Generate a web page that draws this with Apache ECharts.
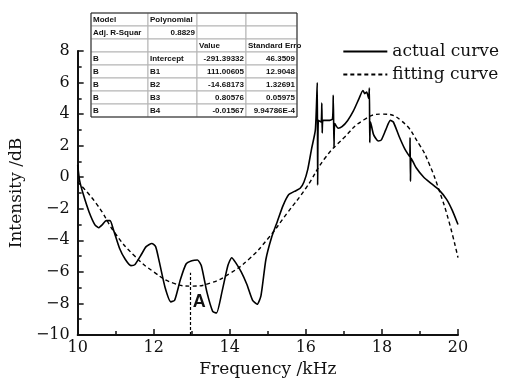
<!DOCTYPE html>
<html>
<head>
<meta charset="utf-8">
<script src="https://cdn.jsdelivr.net/npm/echarts@6/dist/echarts.min.js"></script>
<style>
  html, body { margin: 0; padding: 0; background: #fff; }
  #chart { width: 518px; height: 384px; }
</style>
</head>
<body>
<div id="chart"></div>
<script>
var actualCurve = [
  [10.0, 0.8], [10.05, -0.2], [10.15, -1.1], [10.3, -2.2], [10.45, -3.0], [10.55, -3.2],
  [10.65, -3.0], [10.75, -2.75], [10.85, -2.75], [10.95, -3.4], [11.1, -4.5], [11.25, -5.2],
  [11.4, -5.6], [11.5, -5.55], [11.65, -5.0], [11.8, -4.4], [11.95, -4.2], [12.05, -4.4],
  [12.15, -5.4], [12.3, -7.0], [12.45, -7.9], [12.55, -7.8], [12.7, -6.5], [12.85, -5.5],
  [13.0, -5.3], [13.15, -5.25], [13.25, -5.6], [13.4, -7.3], [13.55, -8.5], [13.65, -8.6],
  [13.8, -7.2], [13.95, -5.6], [14.05, -5.1], [14.15, -5.4], [14.3, -6.0], [14.45, -6.8],
  [14.6, -7.8], [14.72, -8.05], [14.82, -7.5], [14.95, -5.2], [15.1, -3.8], [15.25, -2.8],
  [15.4, -1.8], [15.55, -1.1], [15.7, -0.9], [15.85, -0.7], [15.95, -0.3], [16.05, 0.5],
  [16.15, 1.8], [16.25, 3.0], [16.3, 6.0], [16.31, -0.5], [16.33, 3.6], [16.4, 3.5],
  [16.42, 4.7], [16.43, 2.8], [16.45, 3.6], [16.6, 3.6], [16.7, 3.7], [16.72, 5.2],
  [16.74, 1.9], [16.76, 3.4], [16.85, 3.1], [16.95, 3.2], [17.1, 3.6], [17.25, 4.2],
  [17.4, 5.0], [17.5, 5.5], [17.55, 5.3], [17.6, 5.4], [17.65, 5.0], [17.67, 5.65],
  [17.68, 2.2], [17.7, 3.5], [17.78, 2.7], [17.9, 2.3], [17.98, 2.35], [18.1, 3.0],
  [18.22, 3.6], [18.3, 3.5], [18.45, 2.6], [18.6, 1.8], [18.73, 1.3], [18.74, 2.5],
  [18.75, -0.25], [18.77, 1.2], [18.9, 0.6], [19.1, 0.0], [19.3, -0.4], [19.5, -0.8],
  [19.7, -1.4], [19.85, -2.1], [20.0, -3.0]
];

// polynomial fit
var fitCurve = [
  [10.0, -0.3], [10.5, -1.7], [11.0, -3.6], [11.5, -5.0], [12.0, -6.0], [12.5, -6.7],
  [13.0, -6.9], [13.5, -6.7], [14.0, -6.1], [14.5, -5.2], [15.0, -3.9], [15.5, -2.3],
  [16.0, -0.7], [16.5, 1.2], [17.0, 2.5], [17.5, 3.6], [18.0, 4.0], [18.5, 3.6],
  [19.0, 2.0], [19.25, 0.8], [19.5, -0.8], [19.75, -2.7], [20.0, -5.1]
];

var markA = { x: 12.95, top: -6.05, labelX: 13.2, labelY: -7.9 };

// fit result table
var tableRows = [
  ['Model', 'Polynomial', '', ''],
  ['Adj. R-Squar', '0.8829', '', ''],
  ['', '', 'Value', 'Standard Erro'],
  ['B', 'Intercept', '-291.39332', '46.3509'],
  ['B', 'B1', '111.00605', '12.9048'],
  ['B', 'B2', '-14.68173', '1.32691'],
  ['B', 'B3', '0.80576', '0.05975'],
  ['B', 'B4', '-0.01567', '9.94786E-4']
];
var colWidths = [57, 49, 49, 51];

var serif = '"DejaVu Serif", serif';

function buildTable(left, top, rowH) {
  var els = [];
  var y = top;
  tableRows.forEach(function (row, r) {
    var x = left;
    row.forEach(function (txt, c) {
      var w = colWidths[c];
      els.push({
        type: 'rect', shape: { x: x, y: y, width: w, height: rowH },
        style: { fill: '#fff', stroke: '#b5b5b5', lineWidth: 1 }
      });
      if (txt) {
        var right = (r === 1 && c === 1) || (r >= 3 && c >= 2);
        els.push({
          type: 'text',
          style: {
            text: txt, x: right ? x + w - 2 : x + 2, y: y + rowH / 2 + 0.5,
            textAlign: right ? 'right' : 'left', textVerticalAlign: 'middle',
            font: 'bold 8px "Liberation Sans", Arial, sans-serif', fill: '#111'
          }
        });
      }
      x += w;
    });
    y += rowH;
  });
  var totalW = colWidths.reduce(function (a, b) { return a + b; }, 0);
  els.push({
    type: 'rect', shape: { x: left, y: top, width: totalW, height: rowH * tableRows.length },
    style: { fill: 'none', stroke: '#222', lineWidth: 1 }
  });
  return els;
}

var chart = echarts.init(document.getElementById('chart'));

function minusFmt(v) { return String(v).replace('-', '\u2212'); }

chart.setOption({
  animation: false,
  backgroundColor: '#fff',
  grid: { left: 77, right: 60, top: 51, bottom: 49 },
  legend: {
    orient: 'vertical', right: 14, top: 38, itemGap: 6,
    itemWidth: 44, itemHeight: 14,
    itemStyle: { opacity: 0 },
    textStyle: { fontFamily: serif, fontSize: 17, color: '#111' },
    data: ['actual curve', 'fitting curve']
  },
  xAxis: {
    type: 'value', min: 10, max: 20, interval: 2,
    name: 'Frequency /kHz', nameLocation: 'middle', nameGap: 24,
    nameTextStyle: { fontFamily: serif, fontSize: 17, color: '#111' },
    axisLine: { onZero: false, lineStyle: { color: '#111', width: 2 } },
    axisTick: { inside: true, length: 6, lineStyle: { width: 1.5 } },
    minorTick: { show: true, splitNumber: 2, length: 4, lineStyle: { color: '#111', width: 1.5 } },
    axisLabel: { fontFamily: serif, fontSize: 16, color: '#111', margin: 5 },
    splitLine: { show: false }
  },
  yAxis: {
    type: 'value', min: -10, max: 8, interval: 2,
    name: 'Intensity /dB', nameLocation: 'middle', nameGap: 47,
    nameTextStyle: { fontFamily: serif, fontSize: 17, color: '#111' },
    axisLine: { show: true, onZero: false, lineStyle: { color: '#111', width: 2 } },
    axisTick: { show: true, inside: true, length: 6, lineStyle: { width: 1.5 } },
    minorTick: { show: true, splitNumber: 2, length: 4, lineStyle: { color: '#111', width: 1.5 } },
    axisLabel: { fontFamily: serif, fontSize: 16, color: '#111', margin: 8, formatter: minusFmt },
    splitLine: { show: false }
  },
  series: [
    {
      name: 'actual curve', type: 'line', data: actualCurve,
      showSymbol: false, symbol: 'none', smooth: 0.2,
      lineStyle: { color: '#000', width: 1.6 },
      itemStyle: { color: '#000' },
      markLine: {
        silent: true, symbol: 'none',
        lineStyle: { color: '#000', type: [3, 2], width: 1.2 },
        label: { show: false },
        data: [[{ coord: [markA.x, -10] }, { coord: [markA.x, markA.top] }]]
      },
      markPoint: {
        silent: true, symbol: 'circle', symbolSize: 2,
        itemStyle: { color: 'rgba(0,0,0,0)' },
        label: {
          show: true, position: 'inside', formatter: 'A', color: '#111',
          fontFamily: '"Liberation Sans", Arial, sans-serif', fontWeight: 'bold', fontSize: 18
        },
        data: [{ coord: [markA.labelX, markA.labelY] }]
      }
    },
    {
      name: 'fitting curve', type: 'line', data: fitCurve,
      showSymbol: false, symbol: 'none', smooth: true,
      lineStyle: { color: '#000', width: 1.4, type: [4, 3] },
      itemStyle: { color: '#000' }
    }
  ],
  graphic: buildTable(91, 13, 13)
});
</script>
</body>
</html>
